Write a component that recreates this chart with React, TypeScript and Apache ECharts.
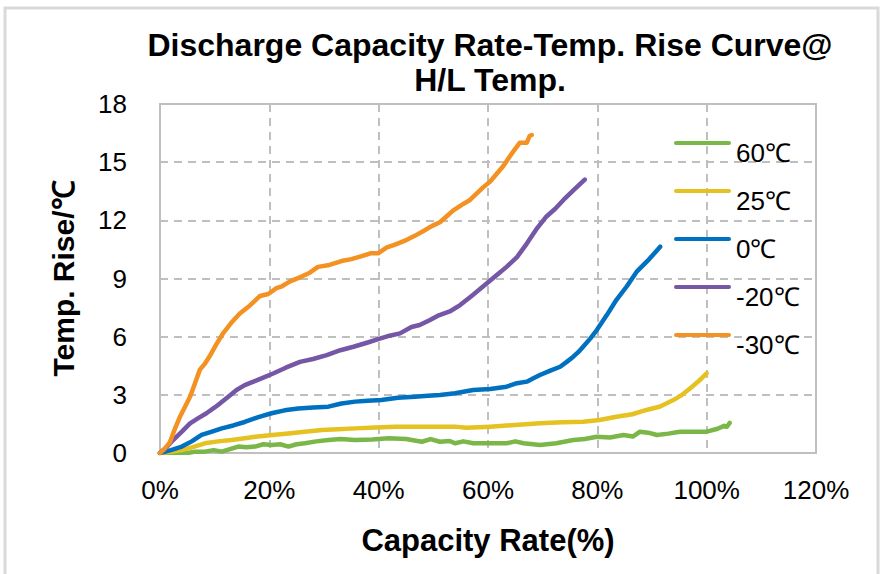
import React, { useEffect, useRef } from "react";
import * as echarts from "echarts";

const seriesNames = ["60℃", "25℃", "0℃", "-20℃", "-30℃"];
const seriesColors = ["#7ab648", "#e6c122", "#0070c0", "#7557a6", "#f39122"];

const xTicks = [0, 20, 40, 60, 80, 100, 120];
const yTicks = [0, 3, 6, 9, 12, 15, 18];

const x60 = [0, 3, 5, 6.5, 8.2, 9.8, 11.3, 12.8, 14.3, 15.8, 17.4, 18.9, 20.4, 22, 23.5, 25, 26.5, 28.6, 30.8, 33, 35.7, 38.8, 41.8, 45, 47.9, 49.5, 51.2, 53, 54, 55.5, 57.3, 60.4, 63.4, 65, 66.5, 69.5, 72.5, 75.6, 77.7, 79.9, 82.3, 84.8, 86.5, 87.8, 89.3, 90.9, 93, 95.1, 97.5, 100, 102, 103.2, 103.7, 104.2];
const y60 = [0, 0, 0, 0.07, 0.07, 0.15, 0.07, 0.2, 0.33, 0.3, 0.33, 0.45, 0.41, 0.45, 0.33, 0.45, 0.5, 0.6, 0.67, 0.72, 0.67, 0.7, 0.76, 0.72, 0.58, 0.72, 0.58, 0.62, 0.5, 0.6, 0.5, 0.5, 0.5, 0.6, 0.5, 0.41, 0.5, 0.67, 0.72, 0.84, 0.8, 0.93, 0.85, 1.1, 1.05, 0.93, 1.0, 1.1, 1.1, 1.1, 1.25, 1.4, 1.35, 1.55];

const x25 = [0, 2, 4, 6, 8.2, 10.6, 13.1, 15.2, 17.4, 20.5, 23.5, 26.5, 29.6, 32.6, 35.7, 39.4, 43, 48, 51.2, 54, 56, 60.4, 65, 69.5, 73.5, 77.4, 80.4, 83.5, 86.4, 89, 91.5, 93.9, 95.5, 97, 98.5, 100];
const y25 = [0, 0.07, 0.15, 0.3, 0.5, 0.6, 0.67, 0.75, 0.84, 0.93, 1.01, 1.1, 1.19, 1.22, 1.27, 1.32, 1.36, 1.36, 1.36, 1.36, 1.3, 1.36, 1.45, 1.53, 1.58, 1.61, 1.7, 1.87, 2.0, 2.22, 2.4, 2.73, 3.0, 3.34, 3.7, 4.11];

const x0 = [0, 2, 4, 5.8, 7.6, 9.5, 11.3, 13.4, 15.5, 18, 20.4, 22.8, 25.3, 28, 30.8, 33.2, 35.7, 38, 40.5, 43.5, 46.6, 49, 51.2, 54, 57.3, 60.4, 63.4, 65.3, 67.1, 68.3, 69.5, 71.4, 73.2, 74.4, 75.6, 76.5, 77.4, 78.7, 79.9, 81.7, 83.5, 85.4, 87.2, 89.5, 91.5];
const y0 = [0, 0.15, 0.33, 0.6, 0.93, 1.1, 1.27, 1.42, 1.6, 1.85, 2.05, 2.2, 2.3, 2.35, 2.39, 2.55, 2.65, 2.7, 2.73, 2.85, 2.9, 2.95, 2.99, 3.08, 3.25, 3.3, 3.42, 3.6, 3.68, 3.85, 4.02, 4.25, 4.45, 4.7, 4.97, 5.2, 5.48, 5.9, 6.34, 7.1, 7.9, 8.6, 9.35, 10.0, 10.64];

const xm20 = [0, 1.2, 2.4, 4, 5.5, 7, 8.5, 10, 11, 12.5, 14, 15.5, 17.1, 19, 20.7, 23, 25.6, 28, 30.5, 33, 35.4, 38, 40.2, 42, 43.9, 46, 47.5, 49.4, 51, 53, 54.9, 57, 59.8, 61.5, 63.4, 65.3, 67.1, 69, 70.7, 72.3, 73.8, 75.8, 77.7];
const ym20 = [0, 0.3, 0.67, 1.1, 1.53, 1.8, 2.05, 2.35, 2.56, 2.9, 3.25, 3.5, 3.68, 3.9, 4.1, 4.4, 4.7, 4.85, 5.05, 5.3, 5.48, 5.7, 5.9, 6.05, 6.17, 6.5, 6.6, 6.86, 7.1, 7.3, 7.63, 8.1, 8.75, 9.15, 9.6, 10.1, 10.8, 11.6, 12.2, 12.6, 13.05, 13.6, 14.1];

const xm30 = [0, 0.8, 1.8, 2.8, 3.7, 4.6, 5.5, 6.4, 7.3, 8.2, 9.1, 10.3, 11.6, 13, 14.6, 16.4, 18.3, 19.8, 21.3, 22.3, 23.8, 25.9, 27.4, 28.9, 31, 33.2, 35, 36.9, 38.5, 39.9, 41.5, 43, 44.8, 46.6, 48.2, 49.7, 51.2, 52.4, 53.6, 55.2, 56.7, 58, 59.1, 60.4, 61.6, 62.8, 64, 65, 65.8, 66.5, 67.1, 67.6, 68];
const ym30 = [0, 0.2, 0.55, 1.3, 1.9, 2.4, 2.9, 3.6, 4.3, 4.6, 5.0, 5.6, 6.2, 6.7, 7.2, 7.6, 8.1, 8.2, 8.5, 8.6, 8.85, 9.1, 9.3, 9.6, 9.7, 9.9, 10.0, 10.15, 10.3, 10.3, 10.6, 10.75, 10.95, 11.2, 11.45, 11.7, 11.9, 12.2, 12.5, 12.8, 13.05, 13.4, 13.7, 14.0, 14.4, 14.8, 15.3, 15.7, 16.0, 16.0, 16.0, 16.35, 16.4];

const seriesX = [x60, x25, x0, xm20, xm30];
const seriesY = [y60, y25, y0, ym20, ym30];

const FONT = "'Liberation Sans', Arial, sans-serif";

export default function App() {
  const ref = useRef<HTMLDivElement>(null);
  useEffect(() => {
    if (!ref.current) return;
    const chart = echarts.init(ref.current, null, { renderer: "svg" });
    const gridColor = "#bfbfbf";
    chart.setOption({
      animation: false,
      backgroundColor: "#ffffff",
      title: {
        text: "Discharge Capacity Rate-Temp. Rise Curve@\nH/L Temp.",
        left: 490,
        top: 27,
        padding: 0,
        textAlign: "center",
        textStyle: {
          fontFamily: FONT,
          fontWeight: "bold",
          fontSize: 32,
          lineHeight: 35,
          color: "#000",
        },
      },
      graphic: [
        {
          type: "rect",
          shape: { x: 5, y: 8, width: 873, height: 620 },
          style: { fill: "none", stroke: "#d9d9d9", lineWidth: 3 },
          silent: true,
          z: -10,
        },
      ],
      legend: {
        orient: "vertical",
        left: 674,
        top: 140,
        padding: 0,
        itemWidth: 57,
        itemHeight: 24,
        itemGap: 22,
        icon: "path://M2,0 L55,0 A2,2 0 0 1 55,4 L2,4 A2,2 0 0 1 2,0 Z M0,24 L0.01,24 L0.01,23.99 Z",
        data: seriesNames,
        textStyle: { fontFamily: FONT, fontSize: 26, color: "#000" },
      },
      grid: {
        left: 160,
        top: 104,
        right: 65,
        bottom: 121,
        show: true,
        borderColor: gridColor,
        borderWidth: 2,
        containLabel: false,
      },
      xAxis: {
        type: "value",
        min: 0,
        max: 120,
        interval: 20,
        name: "Capacity Rate(%)",
        nameLocation: "middle",
        nameGap: 72,
        nameTextStyle: { fontFamily: FONT, fontWeight: "bold", fontSize: 31, color: "#000" },
        axisLine: { show: true, lineStyle: { color: gridColor, width: 2 } },
        axisTick: { show: false },
        axisLabel: {
          fontFamily: FONT,
          fontSize: 26,
          color: "#000",
          margin: 24,
          formatter: (v: number) => (xTicks.includes(v) ? v + "%" : ""),
        },
        splitLine: { show: true, lineStyle: { color: gridColor, width: 2, type: [8, 6] } },
      },
      yAxis: {
        type: "value",
        min: 0,
        max: 18,
        interval: 3,
        name: "Temp. Rise/℃",
        nameLocation: "middle",
        nameGap: 82,
        nameTextStyle: { fontFamily: FONT, fontWeight: "bold", fontSize: 30, color: "#000" },
        axisLine: { show: true, lineStyle: { color: gridColor, width: 2 } },
        axisTick: { show: false },
        axisLabel: {
          fontFamily: FONT,
          fontSize: 26,
          color: "#000",
          margin: 33,
          formatter: (v: number) => (yTicks.includes(v) ? String(v) : ""),
        },
        splitLine: { show: true, lineStyle: { color: gridColor, width: 2, type: [8, 6] } },
      },
      series: seriesNames.map((name, i) => ({
        name,
        type: "line",
        data: seriesX[i].map((x, j) => [x, seriesY[i][j]]),
        showSymbol: false,
        symbol: "none",
        color: seriesColors[i],
        lineStyle: { width: 4.5, color: seriesColors[i], cap: "round", join: "round" },
        itemStyle: { color: seriesColors[i] },
      })),
    });
    return () => chart.dispose();
  }, []);
  return (
    <div
      ref={ref}
      style={{ position: "absolute", left: 0, top: 0, width: 881, height: 574 }}
    />
  );
}
